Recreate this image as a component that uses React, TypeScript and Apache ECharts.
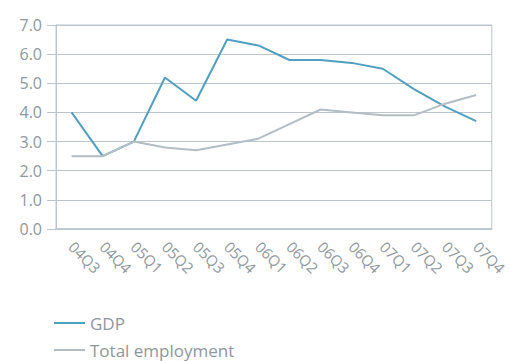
import React, { useEffect, useRef } from "react";
import * as echarts from "echarts";

const categories = ["04Q3","04Q4","05Q1","05Q2","05Q3","05Q4","06Q1","06Q2","06Q3","06Q4","07Q1","07Q2","07Q3","07Q4"];
const gdp = [4.0, 2.5, 3.0, 5.2, 4.4, 6.5, 6.3, 5.8, 5.8, 5.7, 5.5, 4.8, 4.2, 3.7];
const employment = [2.5, 2.5, 3.0, 2.8, 2.7, 2.9, 3.1, 3.6, 4.1, 4.0, 3.9, 3.9, 4.3, 4.6];

const AXIS = "#bcc5cb";
const TEXT = "#8e979e";
const FONT = "Open Sans";
const GDP_COLOR = "#519fc0";
const EMP_COLOR = "#b2bdc4";

const legendBase = {
  left: 54,
  padding: 0,
  itemWidth: 31,
  itemHeight: 2,
  icon: "rect",
  textStyle: { color: TEXT, fontFamily: FONT, fontSize: 17, lineHeight: 18 },
};

export default function App() {
  const ref = useRef<HTMLDivElement>(null);
  useEffect(() => {
    if (!ref.current) return;
    const chart = echarts.init(ref.current, undefined, { renderer: "svg" });
    chart.setOption({
      animation: false,
      grid: { left: 56, right: 16, top: 25, bottom: 132, show: true, borderColor: AXIS, borderWidth: 1 },
      legend: [
        { ...legendBase, top: 314, data: ["GDP"] },
        { ...legendBase, top: 341, data: ["Total employment"] },
      ],
      xAxis: {
        type: "category",
        data: categories,
        boundaryGap: true,
        axisLine: { lineStyle: { color: AXIS, width: 1.5 } },
        axisTick: { inside: true, length: 4, lineStyle: { color: AXIS } },
        axisLabel: { rotate: -45, margin: 15, color: TEXT, fontFamily: FONT, fontSize: 15, interval: 0 },
      },
      yAxis: {
        type: "value",
        min: 0,
        max: 7,
        interval: 1,
        axisLine: { show: true, lineStyle: { color: AXIS } },
        axisTick: { show: true, length: 9, lineStyle: { color: AXIS } },
        splitLine: { lineStyle: { color: AXIS, width: 1.2 } },
        axisLabel: { color: TEXT, fontFamily: FONT, fontSize: 16, margin: 14, formatter: (v: number) => v.toFixed(1) },
      },
      series: [
        { name: "GDP", type: "line", data: gdp, symbol: "none", lineStyle: { color: GDP_COLOR, width: 2 }, itemStyle: { color: GDP_COLOR } },
        { name: "Total employment", type: "line", data: employment, symbol: "none", lineStyle: { color: EMP_COLOR, width: 2 }, itemStyle: { color: EMP_COLOR } },
      ],
    });
    return () => chart.dispose();
  }, []);
  return <div ref={ref} style={{ width: 510, height: 361, position: "absolute", left: 0, top: 0 }} />;
}
